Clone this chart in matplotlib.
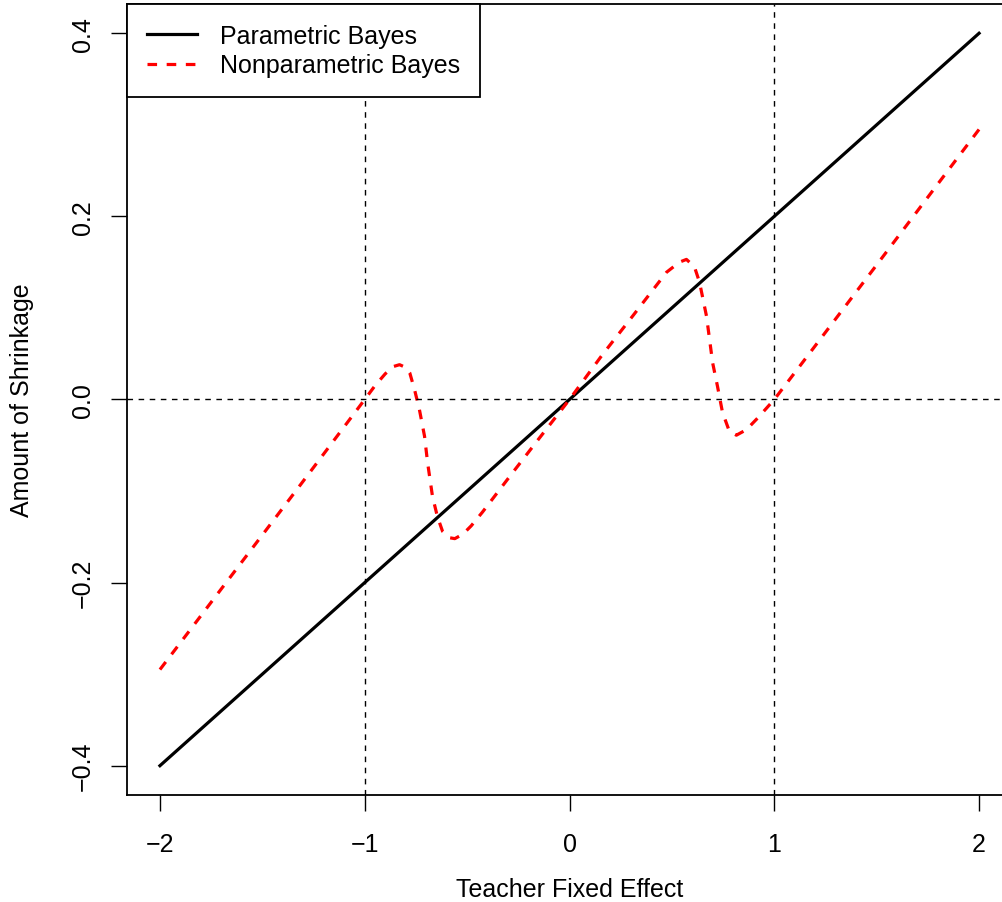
import matplotlib.pyplot as plt

plt.rcParams['font.family'] = ['Liberation Sans', 'DejaVu Sans']

# parametric Bayes shrinkage (straight line)
param_x = [-2.0, 2.0]
param_y = [-0.4, 0.4]

# nonparametric Bayes shrinkage
nonpar_x = [-2.0, -1.5, -1.32, -1.0, -0.95, -0.9, -0.86, -0.83, -0.8, -0.78,
            -0.757, -0.733, -0.708, -0.693, -0.669, -0.645, -0.62, -0.586,
            -0.56, -0.52, -0.48, -0.425, -0.278, -0.15, 0.0, 0.161, 0.308,
            0.474, 0.537, 0.571, 0.61, 0.635, 0.669, 0.699, 0.723, 0.747,
            0.781, 0.815, 0.864, 0.92, 1.0, 1.123, 1.5, 2.0]
nonpar_y = [-0.295, -0.148, -0.095, 0.0, 0.015, 0.028, 0.036, 0.038, 0.035,
            0.029, 0.011, -0.011, -0.040, -0.069, -0.106, -0.128, -0.144,
            -0.151, -0.152, -0.147, -0.138, -0.123, -0.080, -0.043, 0.0,
            0.049, 0.091, 0.139, 0.150, 0.153, 0.145, 0.128, 0.091, 0.040,
            0.014, -0.014, -0.035, -0.039, -0.033, -0.020, 0.0, 0.036, 0.147,
            0.295]

x_ticks = [-2, -1, 0, 1, 2]
y_ticks = [-0.4, -0.2, 0.0, 0.2, 0.4]
y_tick_labels = ['-0.4', '-0.2', '0.0', '0.2', '0.4']

fig = plt.figure(figsize=(10.03, 9.03), dpi=100)
ax = fig.add_axes([0.1268, 0.1185, 0.882, 0.876])

ax.plot(param_x, param_y, color='black', lw=2.3, label='Parametric Bayes')
ax.plot(nonpar_x, nonpar_y, color='red', lw=2.3, dashes=(3, 3),
        label='Nonparametric Bayes')

# reference lines
ax.axhline(0, color='black', lw=1, dashes=(4, 4))
ax.axvline(-1, color='black', lw=1, dashes=(4, 4))
ax.axvline(1, color='black', lw=1, dashes=(4, 4))

ax.set_xlim(-2.16, 2.16)
ax.set_ylim(-0.432, 0.432)
ax.set_xticks(x_ticks)
ax.set_xticklabels(['\u22122', '\u22121', '0', '1', '2'])
ax.set_yticks(y_ticks)
ax.set_yticklabels([s.replace('-', '\u2212') for s in y_tick_labels],
                   rotation=90, va='center')
ax.tick_params(direction='out', length=11.5, width=1, labelsize=18)
ax.tick_params(axis='x', pad=15)
ax.tick_params(axis='y', pad=12)

for s in ax.spines.values():
    s.set_linewidth(1.3)

ax.set_xlabel('Teacher Fixed Effect', fontsize=18, labelpad=15.5)
ax.set_ylabel('Amount of Shrinkage', fontsize=18, labelpad=26)

leg = ax.legend(loc='upper left', bbox_to_anchor=(0, 1), borderaxespad=0,
                fancybox=False, edgecolor='black', framealpha=1, fontsize=18,
                handlelength=2.0, borderpad=0.8, labelspacing=0.22,
                handletextpad=0.9)
leg.get_frame().set_linewidth(1.3)

plt.savefig('out.png', dpi=100)
